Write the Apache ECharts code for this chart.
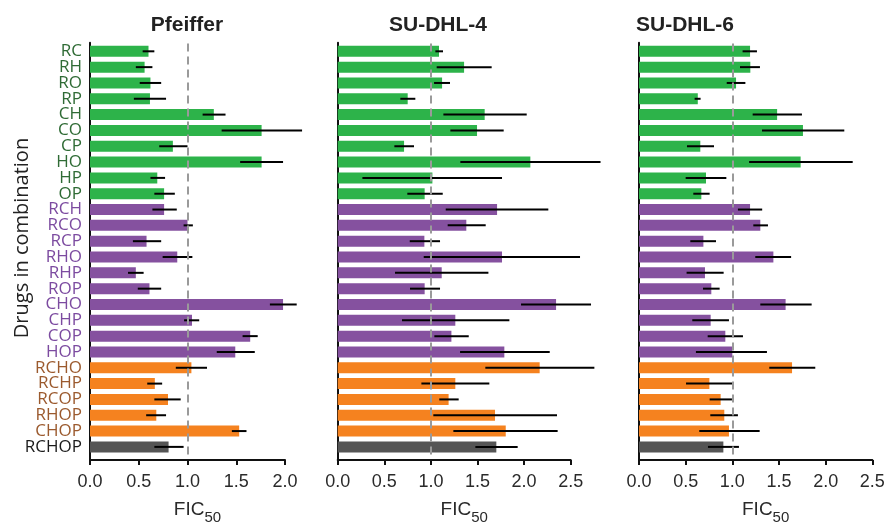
<!DOCTYPE html>
<html>
<head>
<meta charset="utf-8">
<script src="https://cdn.jsdelivr.net/npm/echarts@6/dist/echarts.min.js"></script>
<style>
html,body{margin:0;padding:0;background:#fff;}
#c{width:889px;height:523px;}
</style>
</head>
<body>
<div id="c"></div>
<script>
const categories = ['RC','RH','RO','RP','CH','CO','CP','HO','HP','OP',
  'RCH','RCO','RCP','RHO','RHP','ROP','CHO','CHP','COP','HOP',
  'RCHO','RCHP','RCOP','RHOP','CHOP','RCHOP'];
const groups = [2,2,2,2,2,2,2,2,2,2, 3,3,3,3,3,3,3,3,3,3, 4,4,4,4,4, 5];
const panelTitles = ['Pfeiffer','SU-DHL-4','SU-DHL-6'];
const axisMax = [2.0, 2.5, 2.5];
const tickLabels = ['0.0','0.5','1.0','1.5','2.0','2.5'];

const pfeifferMean = [0.60,0.56,0.62,0.615,1.27,1.76,0.85,1.76,0.69,0.76, 0.76,1.00,0.58,0.895,0.47,0.61,1.98,1.046,1.643,1.49, 1.04,0.665,0.80,0.68,1.53, 0.806];
const pfeifferLow  = [0.54,0.47,0.51,0.45,1.155,1.35,0.71,1.54,0.62,0.66, 0.64,0.96,0.44,0.745,0.39,0.49,1.845,0.965,1.565,1.30, 0.88,0.587,0.66,0.576,1.455, 0.66];
const pfeifferHigh = [0.66,0.64,0.73,0.78,1.39,2.175,1.00,1.98,0.77,0.87, 0.89,1.055,0.73,1.05,0.55,0.73,2.12,1.12,1.72,1.69, 1.20,0.74,0.93,0.78,1.605, 0.96];

const dhl4Mean = [1.087,1.356,1.12,0.751,1.577,1.495,0.712,2.067,1.016,0.933, 1.71,1.38,0.93,1.763,1.116,0.933,2.343,1.262,1.22,1.788, 2.167,1.262,1.19,1.688,1.803, 1.702];
const dhl4Low  = [1.048,1.062,1.034,0.672,1.134,1.209,0.608,1.316,0.265,0.747, 1.159,1.18,0.773,0.923,0.615,0.776,1.967,0.69,1.037,1.313, 1.584,0.898,1.09,1.026,1.241, 1.477];
const dhl4High = [1.13,1.652,1.205,0.833,2.028,1.781,0.819,2.82,1.763,1.127, 2.26,1.588,1.098,2.60,1.617,1.098,2.718,1.842,1.406,2.275, 2.754,1.627,1.298,2.353,2.36, 1.931];

const dhl6Mean = [1.19,1.193,1.04,0.63,1.48,1.757,0.657,1.732,0.718,0.668, 1.19,1.30,0.69,1.44,0.707,0.775,1.571,0.768,0.925,1.00, 1.64,0.754,0.875,0.914,0.964, 0.904];
const dhl6Low  = [1.11,1.082,0.94,0.596,1.218,1.318,0.514,1.18,0.50,0.582, 1.06,1.225,0.55,1.246,0.51,0.686,1.30,0.571,0.736,0.61, 1.396,0.504,0.757,0.764,0.646, 0.739];
const dhl6High = [1.264,1.296,1.14,0.66,1.746,2.20,0.804,2.29,0.936,0.757, 1.32,1.382,0.825,1.63,0.907,0.864,1.85,0.964,1.114,1.371, 1.889,1.004,0.996,1.06,1.293, 1.071];

const means = [pfeifferMean, dhl4Mean, dhl6Mean];
const lows = [pfeifferLow, dhl4Low, dhl6Low];
const highs = [pfeifferHigh, dhl4High, dhl6High];

const barColors = {2:'#2DB34A', 3:'#85519F', 4:'#F5821F', 5:'#555555'};
const labelColors = {2:'#2F6B35', 3:'#7C4BA0', 4:'#9B5A2E', 5:'#1a1a1a'};

const lefts = [90, 337.7, 639];
const widths = [195, 233, 233.3];
const barTop = 43.4, barHeight = 411.4;
const axTop = 42.7, axHeight = 417.3;

const grid = [], xAxis = [], yAxis = [], series = [], title = [];
const titleCenters = [182, 433, 680];

for (let p = 0; p < 3; p++) {
  grid.push({left: lefts[p], width: widths[p], top: barTop, height: barHeight,
    containLabel:false, outerBoundsMode:'none'});
}
for (let p = 0; p < 3; p++) {
  grid.push({left: lefts[p], width: widths[p], top: axTop, height: axHeight,
    containLabel:false, outerBoundsMode:'none'});
}
for (let p = 0; p < 3; p++) {
  xAxis.push({type:'value', gridIndex:p, min:0, max:axisMax[p], show:false});
  yAxis.push({type:'category', gridIndex:p, data:categories, inverse:true,
    axisLine:{show:false}, axisTick:{show:false}, splitLine:{show:false},
    axisLabel:{show: p===0, interval:0, margin:8,
      fontFamily:'Open Sans', fontSize:17,
      color:(v, i) => labelColors[groups[i]]}});
}
for (let p = 0; p < 3; p++) {
  xAxis.push({type:'value', gridIndex:p+3, min:0, max:axisMax[p], interval:0.5,
    axisLine:{show:true, onZero:false, lineStyle:{color:'#111', width:2}},
    axisTick:{show:true, length:5, lineStyle:{color:'#111', width:2}},
    splitLine:{show:false},
    axisLabel:{margin:13, fontFamily:'Liberation Sans', fontSize:18, color:'#2a2a2a',
      formatter:(v) => tickLabels[Math.round(v*2)]},
    name:'{a|FIC}{b|50}', nameLocation:'middle', nameGap:35,
    nameTextStyle:{padding:[0,0,0,20], rich:{
      a:{fontFamily:'Liberation Sans', fontSize:19, color:'#2a2a2a', lineHeight:30, verticalAlign:'middle'},
      b:{fontFamily:'Liberation Sans', fontSize:15, color:'#2a2a2a', lineHeight:30, verticalAlign:'bottom'}
    }}
  });
  yAxis.push({type:'value', gridIndex:p+3, min:0, max:1,
    axisLine:{show:true, onZero:false, lineStyle:{color:'#111', width:2}},
    axisTick:{show:false}, axisLabel:{show:false}, splitLine:{show:false}});
}

for (let p = 0; p < 3; p++) {
  title.push({text: panelTitles[p], left: titleCenters[p], top: 10, textAlign:'center',
    textStyle:{fontFamily:'Liberation Sans', fontWeight:'bold', fontSize:21, color:'#222'}});
  series.push({
    type:'bar', xAxisIndex:p, yAxisIndex:p, barWidth:11, silent:true,
    data: means[p].map((v, i) => ({value:v, itemStyle:{color: barColors[groups[i]]}})),
    markLine:{silent:true, symbol:'none', label:{show:false},
      lineStyle:{color:'#9a9a9a', type:[8,5], width:2},
      data:[{xAxis:1}]},
    z:2
  });
  series.push({
    type:'custom', xAxisIndex:p, yAxisIndex:p, clip:false, silent:true, z:3,
    encode:{x:[1,2], y:0},
    data: lows[p].map((lo, i) => [i, lo, highs[p][i]]),
    renderItem:(params, api) => {
      const a = api.coord([api.value(1), api.value(0)]);
      const b = api.coord([api.value(2), api.value(0)]);
      return {type:'line', shape:{x1:a[0], y1:a[1], x2:b[0], y2:b[1]},
        style:{stroke:'#000', lineWidth:2}};
    }
  });
}

const chart = echarts.init(document.getElementById('c'), null, {renderer:'canvas'});
chart.setOption({
  animation:false,
  backgroundColor:'#fff',
  title, grid, xAxis, yAxis, series,
  graphic:[{type:'text', x:22, y:238, rotation:Math.PI/2,
    style:{text:'Drugs in combination', fontFamily:'Open Sans', fontSize:20,
      fill:'#222', align:'center', verticalAlign:'middle'}}]
});
</script>
</body>
</html>
